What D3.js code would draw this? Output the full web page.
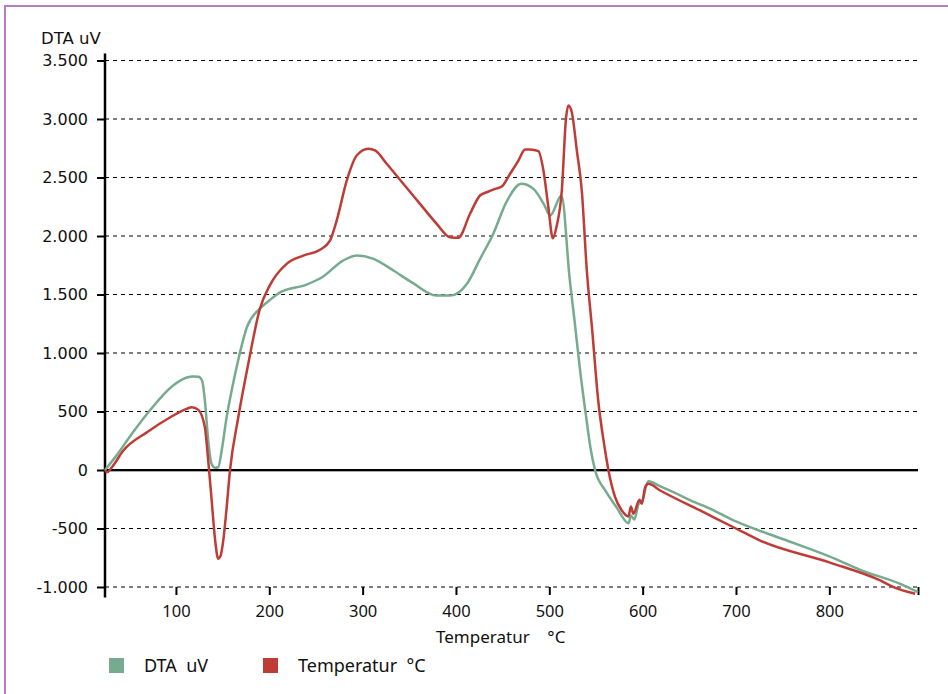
<!DOCTYPE html>
<html lang="de">
<head>
<meta charset="UTF-8">
<title>DTA</title>
<script src="https://d3js.org/d3.v7.min.js"></script>
<style>
  body { margin: 0; background: #fff; }
  text { white-space: pre; }
</style>
</head>
<body>
<script>

// temperatures (°C) and values
var dtaT = [24, 35, 54, 72, 97, 111, 118, 124, 128, 131, 134.6, 138, 141.8, 145.3, 149, 154.3, 159.7, 165, 176, 190, 200, 212, 240, 257, 279, 294, 311, 333, 354, 379, 394, 412, 426, 440, 454, 470, 483, 494, 501, 513, 522, 527, 533, 540, 544, 549, 560, 572, 585, 587.5, 591, 596, 599, 606, 619, 633, 654, 665, 672, 700, 750, 800, 833, 876, 895];
var dtaV = [0, 110, 323, 509, 722, 788, 800, 798, 765, 594, 252, 55, 20, 24, 167, 451, 680, 879, 1220, 1380, 1449, 1520, 1585, 1650, 1790, 1833, 1807, 1705, 1597, 1491, 1491, 1594, 1807, 2020, 2289, 2446, 2403, 2275, 2175, 2346, 1620, 1280, 850, 423, 195, 0, -175, -318, -455, -389, -423, -286, -275, -96, -140, -190, -270, -305, -330, -440, -590, -739, -853, -973, -1044];

var tempT = [24, 26, 32, 43, 69, 94, 111.5, 117, 124, 131, 134.6, 138.3, 142, 145.3, 147.5, 150.7, 154, 157.9, 166.8, 177.5, 190, 200.7, 218.6, 236.4, 254.3, 265, 272.2, 283, 293.7, 306.1, 313.3, 325.8, 343.6, 361.5, 379.4, 393.6, 402.6, 415.1, 425.8, 433, 441.9, 449.1, 458, 466.9, 474, 479.4, 488.3, 493.7, 499, 503.8, 507.6, 513.4, 518, 520.5, 524.1, 529.5, 534.8, 540.2, 546, 552.4, 559.8, 563.3, 570.5, 577.7, 584.8, 587.4, 590.1, 596.6, 599.1, 602.7, 606.2, 618.8, 661.6, 700, 725.9, 800, 854.5, 868.8, 892];
var tempV = [0, -19, 30, 160, 323, 451, 523, 537, 514, 366, 81, -261, -600, -759, -740, -603, -350, -4, 451, 908, 1380, 1580, 1762, 1833, 1882, 1961, 2132, 2474, 2688, 2745, 2731, 2617, 2446, 2275, 2104, 1990, 1985, 2190, 2346, 2374, 2403, 2423, 2532, 2645, 2739, 2739, 2725, 2560, 2246, 1980, 2075, 2389, 3015, 3115, 3058, 2731, 2389, 1705, 1192, 594, 167, 0, -232, -346, -397, -312, -374, -255, -289, -147, -118, -175, -346, -500, -603, -790, -944, -1001, -1058];

var xTicks = [100, 200, 300, 400, 500, 600, 700, 800];
var yTicks = [-1000, -500, 0, 500, 1000, 1500, 2000, 2500, 3000, 3500];

var series = [
    { name: 'DTA  uV', t: dtaT, v: dtaV, color: '#76ab8f' },
    { name: 'Temperatur  °C', t: tempT, v: tempV, color: '#bf3b35' }
];

var width = 948, height = 694;

var svg = d3.select('body')
    .append('svg')
    .attr('width', width)
    .attr('height', height);

// purple frame
svg.append('rect')
    .attr('x', 5).attr('y', 6)
    .attr('width', width + 20).attr('height', height + 20)
    .attr('fill', 'none')
    .attr('stroke', '#b57ec4')
    .attr('stroke-width', 2);

var x = d3.scaleLinear().domain([24, 895]).range([105, 918]);
var y = d3.scaleLinear().domain([-1000, 3500]).range([587, 60.5]);

var de = d3.formatLocale({ decimal: ',', thousands: '.', grouping: [3], currency: ['', ' €'], minus: '-' });
var fmt = de.format(',d');

// grid
svg.append('g')
    .selectAll('line')
    .data(yTicks.filter(function(d) { return d !== 0; }))
    .enter()
        .append('line')
        .attr('x1', x(24)).attr('x2', x(895))
        .attr('y1', function(d) { return y(d); })
        .attr('y2', function(d) { return y(d); })
        .attr('stroke', '#000')
        .attr('stroke-width', 1)
        .attr('stroke-dasharray', '4,4');

// zero line
svg.append('line')
    .attr('x1', x(24)).attr('x2', x(895))
    .attr('y1', y(0) + 1.5).attr('y2', y(0) + 1.5)
    .attr('stroke', '#aaa').attr('stroke-width', 1);
svg.append('line')
    .attr('x1', x(24)).attr('x2', x(895))
    .attr('y1', y(0)).attr('y2', y(0))
    .attr('stroke', '#000').attr('stroke-width', 2);

// y axis
var yAxis = svg.append('g')
    .attr('transform', 'translate(' + x(24) + ',0)')
    .call(d3.axisLeft(y).tickValues(yTicks).tickSize(8).tickPadding(9).tickFormat(fmt));
yAxis.select('.domain').remove();
yAxis.selectAll('.tick line').attr('stroke-width', 2);
yAxis.selectAll('.tick text')
    .attr('font-family', 'DejaVu Sans')
    .attr('font-size', 16)
    .attr('fill', '#111');
svg.append('line')
    .attr('x1', x(24)).attr('x2', x(24))
    .attr('y1', y(3560)).attr('y2', y(-1090))
    .attr('stroke', '#000').attr('stroke-width', 2.5);

// x axis (ticks only, sits on the -1000 grid line)
var xAxis = svg.append('g')
    .attr('transform', 'translate(0,' + y(-1000) + ')')
    .call(d3.axisBottom(x).tickValues(xTicks.concat([895])).tickSize(8)
        .tickFormat(function(d) { return xTicks.indexOf(d) < 0 ? '' : d; }));
xAxis.select('.domain').remove();
xAxis.selectAll('.tick line').attr('stroke-width', 2);
xAxis.selectAll('.tick text')
    .attr('y', 30).attr('dy', 0)
    .attr('font-family', 'Noto Sans')
    .attr('font-size', 16.5)
    .attr('fill', '#111');

// axis titles
svg.append('text')
    .attr('x', 41).attr('y', 44)
    .attr('font-family', 'DejaVu Sans')
    .attr('font-size', 16.5)
    .attr('fill', '#111')
    .text('DTA uV');

svg.append('text')
    .attr('x', 436).attr('y', 643)
    .attr('font-family', 'Noto Sans')
    .attr('font-size', 17)
    .attr('fill', '#111')
    .text('Temperatur    °C');

// lines
var line = d3.line()
    .x(function(d) { return x(d[0]); })
    .y(function(d) { return y(d[1]); })
    .curve(d3.curveMonotoneX);

svg.append('g')
    .selectAll('path')
    .data(series)
    .enter()
        .append('path')
        .attr('d', function(s) { return line(d3.zip(s.t, s.v)); })
        .attr('fill', 'none')
        .attr('stroke', function(s) { return s.color; })
        .attr('stroke-width', 2.5)
        .attr('stroke-linejoin', 'round');

// legend
var legendX = [109, 263];
var legend = svg.append('g')
    .selectAll('g')
    .data(series)
    .enter()
        .append('g')
        .attr('transform', function(s, i) { return 'translate(' + legendX[i] + ',658)'; });
legend.append('rect')
    .attr('width', 15).attr('height', 15)
    .attr('fill', function(s) { return s.color; });
legend.append('text')
    .attr('x', 35).attr('y', 14)
    .attr('font-family', 'Noto Sans')
    .attr('font-size', 18)
    .attr('fill', '#111')
    .text(function(s) { return s.name; });

</script>
</body>
</html>
